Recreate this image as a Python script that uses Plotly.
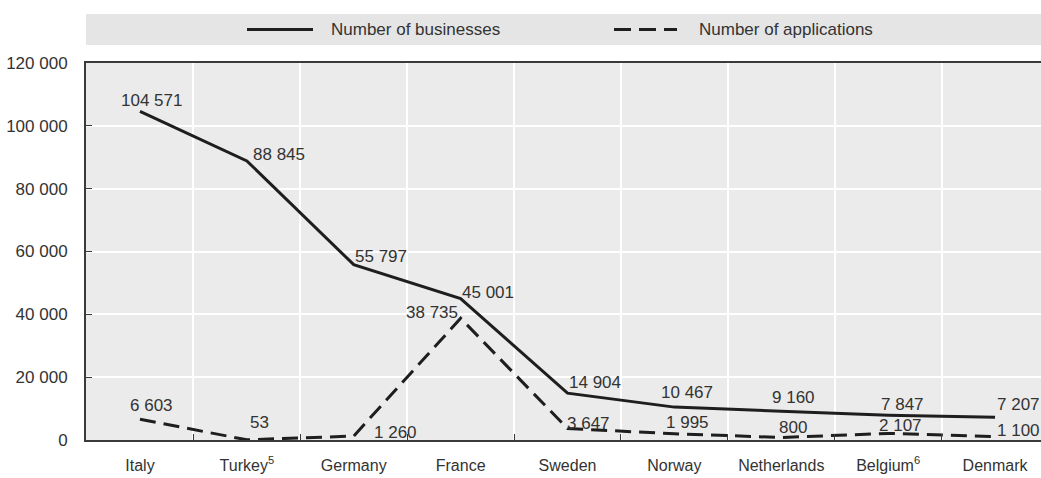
import plotly.graph_objects as go

# Countries and their values
countries = ["Italy", "Turkey", "Germany", "France", "Sweden",
             "Norway", "Netherlands", "Belgium", "Denmark"]
country_labels = ["Italy", "Turkey<sup>5</sup>", "Germany", "France", "Sweden",
                  "Norway", "Netherlands", "Belgium<sup>6</sup>", "Denmark"]
businesses = [104571, 88845, 55797, 45001, 14904, 10467, 9160, 7847, 7207]
applications = [6603, 53, 1260, 38735, 3647, 1995, 800, 2107, 1100]
y_ticks = [0, 20000, 40000, 60000, 80000, 100000, 120000]

# Pixel offsets of the value labels (left edge / vertical centre relative to the point)
biz_offsets = [(-21, 11), (4, 6), (-1, 8), (-1, 6), (-1, 11),
               (-15, 15), (-11, 14), (-9, 11), (0, 13)]
app_offsets = [(-12, 14), (1, 17), (18, 4), (-57, 6), (-3, 5),
               (-10, 11), (-4, 10), (-11, 8), (0, 6)]

FONT = "Liberation Sans, Arial, sans-serif"
FS_NUM = 17
FS_CAT = 16
TEXT = "#333333"
LINE = "#1e1e1e"
AXIS = "#3a3a3a"


def fmt(v):
    return f"{v:,}".replace(",", " ")


fig = go.Figure()
fig.add_trace(go.Scatter(x=countries, y=businesses, mode="lines",
                         name="Number of businesses",
                         line=dict(color=LINE, width=3)))
fig.add_trace(go.Scatter(x=countries, y=applications, mode="lines",
                         name="Number of applications",
                         line=dict(color=LINE, width=3, dash="16px,8px")))

annotations = []
for series, offsets in ((businesses, biz_offsets), (applications, app_offsets)):
    for c, v, (dx, dy) in zip(countries, series, offsets):
        annotations.append(dict(x=c, y=v, xref="x", yref="y", text=fmt(v),
                                showarrow=False, xanchor="left", yanchor="middle",
                                xshift=dx, yshift=dy,
                                font=dict(family=FONT, size=FS_NUM, color=TEXT)))

# Legend band drawn across the top of the chart
L, R, T, B = 86, 1041, 63, 440
W, H = R - L, B - T


def px(xp):
    return (xp - L) / W


def py(yp):
    return (B - yp) / H


shapes = [
    dict(type="rect", xref="paper", yref="paper", x0=0, x1=1,
         y0=py(45), y1=py(14), fillcolor="#e5e5e5", line=dict(width=0),
         layer="below"),
    dict(type="line", xref="paper", yref="paper", x0=px(247), x1=px(313),
         y0=py(29.5), y1=py(29.5), line=dict(color=LINE, width=3)),
    dict(type="line", xref="paper", yref="paper", x0=px(614), x1=px(677),
         y0=py(29.5), y1=py(29.5), line=dict(color=LINE, width=3, dash="17px,8px")),
]
annotations += [
    dict(xref="paper", yref="paper", x=px(329), y=py(29.5), text="Number of businesses",
         showarrow=False, xanchor="left", yanchor="middle",
         font=dict(family=FONT, size=17, color=TEXT)),
    dict(xref="paper", yref="paper", x=px(697), y=py(29.5), text="Number of applications",
         showarrow=False, xanchor="left", yanchor="middle",
         font=dict(family=FONT, size=17, color=TEXT)),
]

fig.update_layout(
    width=1041, height=478,
    margin=dict(l=L, r=1041 - R, t=T, b=478 - B, autoexpand=False),
    paper_bgcolor="white",
    plot_bgcolor="#ebebeb",
    showlegend=False,
    font=dict(family=FONT, size=FS_CAT, color=TEXT),
    shapes=shapes,
    annotations=annotations,
    xaxis=dict(
        type="category", range=[-0.505, 8.43], automargin=False,
        tickmode="array", tickvals=countries, ticktext=country_labels,
        tickson="boundaries", ticks="inside", ticklen=6, tickwidth=1,
        tickcolor=AXIS, tickangle=0,
        showgrid=True, gridcolor="white", gridwidth=2,
        showline=True, linecolor=AXIS, linewidth=2, mirror=True,
        ticklabelstandoff=10,
        tickfont=dict(family=FONT, size=FS_CAT, color=TEXT),
    ),
    yaxis=dict(
        range=[0, 120000], tickmode="array", tickvals=y_ticks, automargin=False,
        ticktext=[fmt(v) for v in y_ticks],
        ticks="inside", ticklen=6, tickwidth=1, tickcolor=AXIS,
        showgrid=True, gridcolor="white", gridwidth=2,
        zeroline=False,
        showline=True, linecolor=AXIS, linewidth=2,
        ticklabelstandoff=13,
        tickfont=dict(family=FONT, size=FS_NUM, color=TEXT),
    ),
)

fig.write_html("out.html")
